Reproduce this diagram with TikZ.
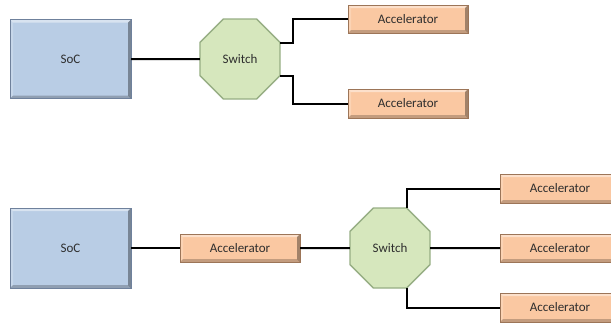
\documentclass[tikz,border=0pt]{standalone}
\usepackage{fontspec}
\setmainfont{Carlito}
\usetikzlibrary{shapes.geometric,calc}

\definecolor{socfill}{HTML}{B9CDE5}
\definecolor{socedge}{HTML}{6F819C}
\definecolor{accfill}{HTML}{FAC8A2}
\definecolor{accedge}{HTML}{9C7558}
\definecolor{swfill}{HTML}{D6E7BD}
\definecolor{swedge}{HTML}{97AE84}
\definecolor{labeltext}{HTML}{2E2E2E}

\tikzset{
  bevel/.style={
    path picture={
      \fill[white,opacity=0.45]
        (path picture bounding box.north west) -- (path picture bounding box.north east)
        -- ([xshift=-3pt,yshift=-3pt]path picture bounding box.north east)
        -- ([xshift=3pt,yshift=-3pt]path picture bounding box.north west) -- cycle;
      \fill[white,opacity=0.2]
        (path picture bounding box.north west) -- ([xshift=3pt,yshift=-3pt]path picture bounding box.north west)
        -- ([xshift=3pt,yshift=3pt]path picture bounding box.south west)
        -- (path picture bounding box.south west) -- cycle;
      \fill[black,opacity=0.22]
        (path picture bounding box.south west) -- (path picture bounding box.south east)
        -- ([xshift=-3pt,yshift=3pt]path picture bounding box.south east)
        -- ([xshift=3pt,yshift=3pt]path picture bounding box.south west) -- cycle;
      \fill[black,opacity=0.35]
        (path picture bounding box.north east) -- (path picture bounding box.south east)
        -- ([xshift=-3pt,yshift=3pt]path picture bounding box.south east)
        -- ([xshift=-3pt,yshift=-3pt]path picture bounding box.north east) -- cycle;
    }},
  boxlabel/.style={font=\fontsize{13}{15}\selectfont, text=labeltext},
  socbox/.style={rectangle, bevel, fill=socfill, draw=socedge, line width=0.8pt,
    minimum width=121pt, minimum height=79pt, inner sep=0pt, outer sep=0pt, boxlabel},
  accbox/.style={rectangle, bevel, fill=accfill, draw=accedge, line width=0.8pt,
    minimum width=120pt, minimum height=28pt, inner sep=0pt, outer sep=0pt, boxlabel},
  swbox/.style={regular polygon, regular polygon sides=8, fill=swfill, draw=swedge,
    line width=1.4pt, minimum size=86.6pt, inner sep=0pt, outer sep=0pt, boxlabel},
  link/.style={draw=black, line width=2pt}
}

\begin{document}
\begin{tikzpicture}[x=1pt,y=-1pt]
  \useasboundingbox (0,0) rectangle (611,322);
  \clip (0,0) rectangle (611,322);

  % upper arrangement: SoC -> switch -> two accelerators
  \node[socbox] (soc1) at (70.5,59) {SoC};
  \node[swbox] (sw1) at (240,59) {Switch};
  \node[accbox] (acc1) at (408,19) {Accelerator};
  \node[accbox,minimum height=29pt] (acc2) at (408,103.5) {Accelerator};

  \coordinate (sw1ne) at ($(sw1.center)+(40,-16.5)$);
  \coordinate (sw1se) at ($(sw1.center)+(40,16.5)$);

  \draw[link] (soc1.east) -- (sw1.west);
  \draw[link] (sw1ne) -- ++(13,0) |- (acc1.west);
  \draw[link] (sw1se) -- ++(13,0) |- (acc2.west);

  % lower arrangement: SoC -> accelerator -> switch -> three accelerators
  \node[socbox,minimum height=80pt] (soc2) at (70.5,248) {SoC};
  \node[accbox] (acc3) at (240,248) {Accelerator};
  \node[swbox] (sw2) at (390,248) {Switch};
  \node[accbox,minimum height=29pt] (acc4) at (560,188.5) {Accelerator};
  \node[accbox] (acc5) at (560,248) {Accelerator};
  \node[accbox,minimum height=29pt] (acc6) at (560,307.5) {Accelerator};

  \coordinate (sw2nt) at ($(sw2.center)+(16.5,-40)$);
  \coordinate (sw2sb) at ($(sw2.center)+(16.5,40)$);

  \draw[link] (soc2.east) -- (acc3.west);
  \draw[link] (acc3.east) -- (sw2.west);
  \draw[link] (sw2nt) |- (acc4.west);
  \draw[link] (sw2.east) -- (acc5.west);
  \draw[link] (sw2sb) |- (acc6.west);
\end{tikzpicture}
\end{document}
